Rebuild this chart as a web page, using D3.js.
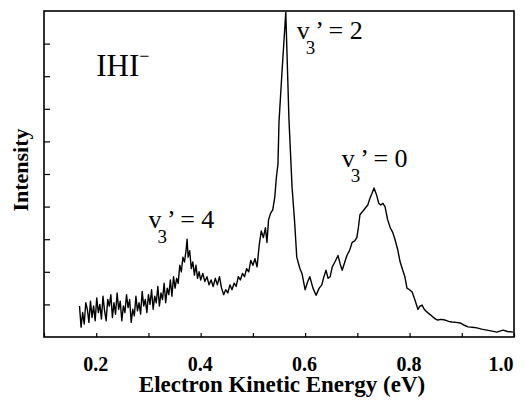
<!DOCTYPE html>
<html>
<head>
<meta charset="utf-8">
<script src="https://cdn.jsdelivr.net/npm/d3@7"></script>
<style>
body { margin: 0; background: #fff; }
text { font-family: "Liberation Serif", "Times New Roman", serif; fill: #000; }
</style>
</head>
<body>
<script>
// Spectrum (eV, arbitrary intensity 0..10)
var energy = [
	0.168, 0.171, 0.174, 0.177, 0.180, 0.183, 0.186, 0.189, 0.192, 0.195,
	0.198, 0.201, 0.204, 0.207, 0.210, 0.213, 0.216, 0.219, 0.222, 0.225,
	0.228, 0.231, 0.234, 0.237, 0.240, 0.243, 0.246, 0.249, 0.252, 0.255,
	0.258, 0.261, 0.264, 0.267, 0.270, 0.273, 0.276, 0.279, 0.282, 0.285,
	0.288, 0.291, 0.294, 0.297, 0.300, 0.303, 0.306, 0.309, 0.312, 0.315,
	0.318, 0.321, 0.324, 0.327, 0.330, 0.333, 0.336, 0.339, 0.342, 0.345,
	0.348, 0.351, 0.354, 0.357, 0.360, 0.363, 0.366, 0.369, 0.372, 0.374,
	0.376, 0.379, 0.382, 0.385, 0.388, 0.391, 0.394, 0.397, 0.400,
	0.404, 0.408, 0.412, 0.416, 0.420, 0.424, 0.428, 0.432, 0.436, 0.440,
	0.444, 0.448, 0.452, 0.456, 0.460, 0.464, 0.468, 0.472, 0.476, 0.480,
	0.484, 0.488, 0.492, 0.496, 0.500, 0.504, 0.508, 0.512, 0.516, 0.520,
	0.524, 0.527, 0.530, 0.534, 0.538, 0.542, 0.545, 0.548, 0.550, 0.556,
	0.563, 0.569, 0.575, 0.580, 0.584, 0.590, 0.594, 0.600, 0.605, 0.609,
	0.615, 0.621, 0.627, 0.632, 0.636, 0.640, 0.644, 0.648, 0.652, 0.657,
	0.663, 0.667, 0.671, 0.676, 0.680, 0.685, 0.690, 0.695, 0.699, 0.702,
	0.705, 0.710, 0.715, 0.720, 0.724, 0.728, 0.732, 0.737, 0.741, 0.745,
	0.749, 0.753, 0.758, 0.763, 0.768, 0.772, 0.777, 0.782, 0.787, 0.791,
	0.795, 0.800, 0.805, 0.810, 0.816, 0.820, 0.824, 0.828, 0.833, 0.840,
	0.845, 0.850, 0.854, 0.860, 0.868, 0.875, 0.881, 0.889, 0.897, 0.905,
	0.912, 0.920, 0.929, 0.938, 0.948, 0.958, 0.967, 0.973, 0.979, 0.988,
	0.998
];

var intensity = [
	0.95, 0.30, 0.75, 0.40, 1.05, 0.85, 0.45, 1.10, 0.60, 0.95,
	0.50, 1.20, 0.75, 1.00, 0.55, 1.25, 0.80, 0.50, 1.15, 0.95,
	1.30, 0.60, 1.05, 0.70, 1.35, 0.85, 1.10, 0.50, 0.95, 0.75,
	1.30, 0.90, 1.15, 0.45, 0.85, 0.65, 1.25, 0.80, 1.05, 0.70,
	1.40, 0.95, 1.15, 0.75, 1.30, 1.00, 1.45, 0.85, 1.25, 1.05,
	1.55, 0.95, 1.35, 1.15, 1.65, 1.05, 1.50, 1.30, 1.75, 1.25,
	1.85, 1.50, 1.80, 1.65, 2.20, 2.00, 2.45, 2.30, 2.65, 3.00,
	2.45, 2.65, 2.10, 2.30, 1.90, 2.20, 1.80, 2.00, 1.75,
	1.95, 1.70, 1.85, 1.60, 1.75, 1.55, 1.80, 1.60, 1.85, 1.50,
	1.30, 1.45, 1.35, 1.60, 1.45, 1.65, 1.55, 1.85, 1.75, 1.95,
	1.85, 2.10, 2.00, 2.35, 2.20, 2.40, 2.15, 2.80, 3.25, 3.05,
	3.35, 2.90, 3.60, 3.80, 3.90, 4.30, 4.90, 5.30, 6.60, 8.20,
	9.96, 6.70, 4.60, 3.50, 2.45, 2.10, 1.95, 1.45, 1.70, 1.85,
	1.50, 1.28, 1.50, 1.60, 1.85, 2.05, 1.80, 1.85, 2.15, 2.30,
	2.50, 2.25, 2.05, 2.30, 2.50, 2.65, 2.90, 2.95, 3.05, 3.35,
	3.75, 3.85, 3.95, 4.05, 4.25, 4.40, 4.57, 4.35, 4.10, 4.05,
	4.10, 4.00, 3.60, 3.35, 3.20, 3.00, 2.70, 2.30, 2.05, 1.85,
	1.50, 1.45, 1.38, 1.15, 0.85, 0.95, 0.98, 0.85, 0.77, 0.68,
	0.61, 0.55, 0.52, 0.54, 0.52, 0.48, 0.46, 0.45, 0.43, 0.36,
	0.31, 0.30, 0.28, 0.24, 0.21, 0.18, 0.15, 0.18, 0.21, 0.17,
	0.15
];

var xTicks = [0.1, 0.2, 0.3, 0.4, 0.5, 0.6, 0.7, 0.8, 0.9, 1.0];
var xTickLabels = ["", "0.2", "", "0.4", "", "0.6", "", "0.8", "", "1.0"];
var yTicks = [1, 2, 3, 4, 5, 6, 7, 8, 9];

// peak labels: vibrational quantum number and where the label sits (eV, intensity)
var peakLabels = [
	{ v : "4", e : 0.300, i : 3.33 },
	{ v : "2", e : 0.584, i : 9.14 },
	{ v : "0", e : 0.670, i : 5.21 }
];

var margin = { top : 11, right : 11, bottom : 64, left : 44 },
	width = 525 - margin.left - margin.right,
	height = 401 - margin.top - margin.bottom;

var svg = d3.select("body").append("svg")
	.attr("width", width + margin.left + margin.right)
	.attr("height", height + margin.top + margin.bottom)
	.append("g")
	.attr("transform", "translate(" + margin.left + "," + margin.top + ")");

var x = d3.scaleLinear().domain([0.1, 1.0]).range([0, width]);
var y = d3.scaleLinear().domain([0, 10]).range([height, 0]);

var data = energy.map(function(e, k) { return { e : e, i : intensity[k] }; });

// bottom axis, ticks pointing inward
var xAxis = d3.axisBottom(x).tickValues(xTicks).tickSizeInner(-4).tickSizeOuter(0)
	.tickFormat(function(d, k) { return xTickLabels[k]; });

var gx = svg.append("g").attr("transform", "translate(0," + height + ")").call(xAxis)
	.attr("font-family", null).attr("font-size", null);
gx.select(".domain").remove();
gx.selectAll(".tick line").attr("stroke", "#000").attr("stroke-width", 1.2);
gx.selectAll(".tick text").attr("y", 34).attr("dy", null).attr("dx", -1)
	.style("font-family", "'Liberation Serif', serif")
	.style("font-weight", "bold").style("font-size", "20px").attr("fill", "#000")
	.style("text-anchor", function(d, k) { return k === xTicks.length - 1 ? "end" : "middle"; });

var yAxis = d3.axisLeft(y).tickValues(yTicks).tickSizeInner(-6).tickSizeOuter(0)
	.tickFormat("");
var gy = svg.append("g").call(yAxis);
gy.select(".domain").remove();
gy.selectAll(".tick line").attr("stroke", "#000").attr("stroke-width", 1.2);

// frame
svg.append("rect").attr("width", width).attr("height", height)
	.attr("fill", "none").attr("stroke", "#000").attr("stroke-width", 1.6);

// spectrum
var line = d3.line().x(function(d) { return x(d.e); }).y(function(d) { return y(d.i); });
svg.append("path").datum(data).attr("d", line)
	.attr("fill", "none").attr("stroke", "#000").attr("stroke-width", 1.4)
	.attr("stroke-linejoin", "round");

// axis titles
svg.append("text").attr("x", 238).attr("y", height + 55)
	.style("text-anchor", "middle").style("font-weight", "bold").style("font-size", "23px")
	.text("Electron Kinetic Energy (eV)");

svg.append("text").attr("transform", "translate(-16," + 159 + ") rotate(-90)")
	.style("text-anchor", "middle").style("font-weight", "bold").style("font-size", "22px")
	.text("Intensity");

// molecule label
var ihi = svg.append("text").attr("x", x(0.2)).attr("y", 65).style("font-size", "31px");
ihi.append("tspan").text("IHI");
ihi.append("tspan").attr("dy", -14).style("font-size", "18px").text("\u2212");

// v3' = n labels
peakLabels.forEach(function(p) {
	var t = svg.append("text").attr("x", x(p.e)).attr("y", y(p.i)).style("font-size", "26px");
	t.append("tspan").text("v");
	t.append("tspan").attr("dx", -4).attr("dy", 15).style("font-size", "19px").text("3");
	t.append("tspan").attr("dy", -15).text("\u2019");
	t.append("tspan").text(" = " + p.v);
});
</script>
</body>
</html>
